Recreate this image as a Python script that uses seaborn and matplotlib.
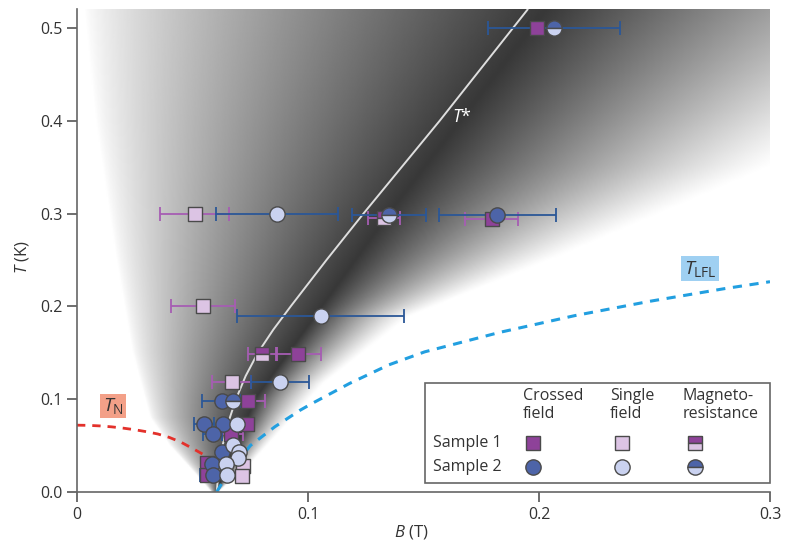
import numpy as np
import pandas as pd
import seaborn as sns
import matplotlib.pyplot as plt
from matplotlib.patches import Rectangle

sns.set_style('ticks')
plt.rcParams['font.family'] = ['Open Sans', 'DejaVu Sans']
plt.rcParams['mathtext.fontset'] = 'custom'
plt.rcParams['mathtext.it'] = 'Open Sans:italic'
plt.rcParams['mathtext.rm'] = 'Open Sans'

# T* crossover line
tstar_B = [0.0605, 0.0613, 0.063, 0.0655, 0.0688, 0.073, 0.0783, 0.085, 0.0925, 0.108, 0.124, 0.157, 0.1951]
tstar_T = [0.0, 0.025, 0.05, 0.075, 0.1, 0.125, 0.15, 0.175, 0.2, 0.25, 0.3, 0.4, 0.52]

# T_N (dashed red)
tn_B = [0.0, 0.005, 0.01, 0.015, 0.02, 0.025, 0.03, 0.035, 0.04, 0.045, 0.05, 0.055, 0.059]
tn_T = [0.072, 0.0718, 0.0712, 0.0702, 0.0688, 0.0671, 0.065, 0.0625, 0.0588, 0.0537, 0.047, 0.040, 0.032]

# T_LFL (dashed blue)
tlfl_B = [0.0605, 0.064, 0.069, 0.075, 0.0857, 0.0965, 0.1019, 0.118, 0.135, 0.1505, 0.183, 0.2154, 0.248, 0.280, 0.300]
tlfl_T = [0.0, 0.015, 0.031, 0.050, 0.0704, 0.088, 0.0956, 0.117, 0.137, 0.151, 0.172, 0.190, 0.2055, 0.219, 0.2266]

# shading guides
left_T = [0.0, 0.02, 0.05, 0.08, 0.15, 0.25, 0.4, 0.52]
left_B = [0.058, 0.051, 0.040, 0.0316, 0.024, 0.017, 0.008, 0.003]
peak_T = [0.0, 0.1, 0.2, 0.3, 0.4, 0.52]
peak_B = [0.0605, 0.077, 0.106, 0.135, 0.166, 0.203]
right_T = [0.0, 0.027, 0.117, 0.189, 0.26, 0.35, 0.52]
right_B = [0.061, 0.074, 0.107, 0.144, 0.215, 0.30, 0.42]

# measurements: sample 1 (squares)
s1_cross_B = [0.199, 0.1795, 0.0958, 0.0742, 0.0734, 0.0665, 0.0562, 0.0562]
s1_cross_T = [0.5, 0.294, 0.149, 0.098, 0.0733, 0.063, 0.031, 0.018]
s1_cross_err = [0, 0.0115, 0.0098, 0.0072, 0, 0.0055, 0, 0]

s1_single_B = [0.0509, 0.0545, 0.0669, 0.072, 0.0716]
s1_single_T = [0.30, 0.20, 0.119, 0.0284, 0.0176]
s1_single_err = [0.015, 0.014, 0.0084, 0, 0]

s1_mr_B = [0.133, 0.0802]
s1_mr_T = [0.295, 0.149]
s1_mr_err = [0.007, 0.0062]

# sample 2 (circles)
s2_cross_B = [0.182, 0.0626, 0.055, 0.0633, 0.0587, 0.0626, 0.0586, 0.0587]
s2_cross_T = [0.298, 0.098, 0.0733, 0.0733, 0.063, 0.0434, 0.0298, 0.0183]
s2_cross_err = [0.0253, 0.0084, 0.0044, 0, 0.004, 0, 0, 0.0054]

s2_single_B = [0.0866, 0.1055, 0.0879, 0.0694, 0.0677, 0.0703, 0.0699, 0.0643, 0.0648]
s2_single_T = [0.30, 0.19, 0.119, 0.0733, 0.0506, 0.0434, 0.037, 0.0298, 0.0183]
s2_single_err = [0.0264, 0.0362, 0.0126, 0, 0, 0, 0, 0, 0]

s2_mr_B = [0.2065, 0.135, 0.0677]
s2_mr_T = [0.5, 0.298, 0.098]
s2_mr_err = [0.0285, 0.016, 0]

dark_mag = '#8e4299'
light_mag = '#dcc4e4'
dark_blue = '#4d64a8'
light_blue = '#cad2f0'
bar_mag = '#a65db3'
bar_blue = '#2b5797'
edge = '#4a4a4a'
txt = '#333333'

fig, ax = plt.subplots(figsize=(7.86, 5.44), dpi=100)
fig.subplots_adjust(left=77/786, right=770/786, bottom=52/544, top=1 - 9.4/544)

# background shading
bb = np.linspace(0, 0.3, 600)
tt = np.linspace(0, 0.52, 520)
BB, TT = np.meshgrid(bb, tt)
bl = np.interp(TT, left_T, left_B)
bp = np.interp(TT, peak_T, peak_B)
br = np.interp(TT, right_T, right_B)
dark = np.zeros_like(BB)
u = (BB - bl) / (bp - bl + 1e-9)
v = (br - BB) / (br - bp + 1e-9)
m1 = (BB >= bl) & (BB <= bp)
m2 = (BB > bp) & (BB < br)
dark[m1] = u[m1] ** 0.75
dark[m2] = v[m2] ** 1.2
bright = 1 - 0.78 * dark
ax.imshow(bright, cmap='gray', vmin=0, vmax=1, extent=[0, 0.3, 0, 0.52],
          origin='lower', aspect='auto', zorder=0, interpolation='bilinear')

sns.lineplot(x=tstar_B, y=tstar_T, sort=False, estimator=None, color='#dedede', lw=1.4, ax=ax, zorder=2)
sns.lineplot(x=tn_B, y=tn_T, sort=False, estimator=None, color='#e3312b', lw=2, ax=ax, zorder=2,
             linestyle=(0, (3, 2.5)))
sns.lineplot(x=tlfl_B, y=tlfl_T, sort=False, estimator=None, color='#229fe0', lw=2.2, ax=ax, zorder=2,
             linestyle=(0, (3, 2.5)))


def draw(B, T, err, barcol, marker, ms, face, alt=None):
    df = pd.DataFrame({'B': B, 'T': T, 'err': err})
    e = df[df['err'] > 0]
    ax.errorbar(e['B'], e['T'], xerr=e['err'], fmt='none', ecolor=barcol, elinewidth=1.3,
                capsize=5, capthick=1.3, zorder=3)
    if alt is None:
        sns.scatterplot(data=df, x='B', y='T', marker=marker, s=ms ** 2, color=face,
                        edgecolor=edge, linewidth=1, ax=ax, zorder=4)
    else:
        ax.plot(df['B'], df['T'], ls='none', marker=marker, ms=ms, fillstyle='top',
                markerfacecolor=face, markerfacecoloralt=alt, markeredgecolor=edge,
                markeredgewidth=1, zorder=4)


draw(s1_cross_B, s1_cross_T, s1_cross_err, bar_mag, 's', 10, dark_mag)
draw(s1_single_B, s1_single_T, s1_single_err, bar_mag, 's', 10, light_mag)
draw(s1_mr_B, s1_mr_T, s1_mr_err, bar_mag, 's', 10, dark_mag, light_mag)
draw(s2_cross_B, s2_cross_T, s2_cross_err, bar_blue, 'o', 11, dark_blue)
draw(s2_single_B, s2_single_T, s2_single_err, bar_blue, 'o', 11, light_blue)
draw(s2_mr_B, s2_mr_T, s2_mr_err, bar_blue, 'o', 11, dark_blue, light_blue)

# curve labels
ax.text(0.1665, 0.404, r'$T$*', color='white', fontsize=13, ha='center', va='center', zorder=5)
ax.text(0.0156, 0.0927, r'$T_{\mathrm{N}}$', fontsize=14, color=txt, ha='center', va='center',
        bbox=dict(boxstyle='square,pad=0.12', fc='#f3a088', ec='none'), zorder=5)
ax.text(0.2697, 0.2405, r'$T_{\mathrm{LFL}}$', fontsize=14, color=txt, ha='center', va='center',
        bbox=dict(boxstyle='square,pad=0.12', fc='#9fd0f2', ec='none'), zorder=5)

ax.set_xlim(0, 0.3)
ax.set_ylim(0, 0.52)
ax.set_xticks([0, 0.1, 0.2, 0.3])
ax.set_xticklabels(['0', '0.1', '0.2', '0.3'])
ax.set_yticks([0, 0.1, 0.2, 0.3, 0.4, 0.5])
ax.set_yticklabels(['0.0', '0.1', '0.2', '0.3', '0.4', '0.5'])
ax.tick_params(direction='out', length=7, width=1.2, color='#555555', labelcolor=txt, labelsize=11.5)
sns.despine(ax=ax)
for s in ['left', 'bottom']:
    ax.spines[s].set_color('#666666')
    ax.spines[s].set_linewidth(1.2)
ax.set_xlabel('')
ax.set_ylabel('')

fig.text(22/786, 1 - 257/544, r'$T$ (K)', rotation=90, ha='center', va='center', fontsize=12, color=txt)
fig.text(411/786, 1 - 532/544, r'$B$ (T)', ha='center', va='center', fontsize=12, color=txt)


# legend table, drawn in figure fractions
def fx(px):
    return px / 786


def fy(py):
    return 1 - py / 544


ft = fig.transFigure
ax.add_patch(Rectangle((fx(425), fy(483.3)), fx(770) - fx(425), fy(383.3) - fy(483.3),
                       transform=ft, fc='white', ec='#666666', lw=1.2, zorder=6, clip_on=False))
hdr = ['Crossed\nfield', 'Single\nfield', 'Magneto-\nresistance']
hx = [523, 610, 683]
for h, x in zip(hdr, hx):
    ax.text(fx(x), fy(388), h, transform=ft, ha='left', va='top', fontsize=11.5, color=txt,
            linespacing=1.15, zorder=7)
ax.text(fx(433), fy(443), 'Sample 1', transform=ft, ha='left', va='center', fontsize=11.5, color=txt, zorder=7)
ax.text(fx(433), fy(467), 'Sample 2', transform=ft, ha='left', va='center', fontsize=11.5, color=txt, zorder=7)
mx = [533, 621.7, 695]
rows = [(443, 's', 10, [(dark_mag, None), (light_mag, None), (dark_mag, light_mag)]),
        (467, 'o', 11, [(dark_blue, None), (light_blue, None), (dark_blue, light_blue)])]
for py, mk, ms, styles in rows:
    for x, (fc, alt) in zip(mx, styles):
        kw = dict(ls='none', marker=mk, ms=ms, markerfacecolor=fc, markeredgecolor=edge,
                  markeredgewidth=1, transform=ft, clip_on=False, zorder=8)
        if alt is not None:
            kw.update(fillstyle='top', markerfacecoloralt=alt)
        ax.plot([fx(x)], [fy(py)], **kw)

fig.savefig('out.png', dpi=100)
